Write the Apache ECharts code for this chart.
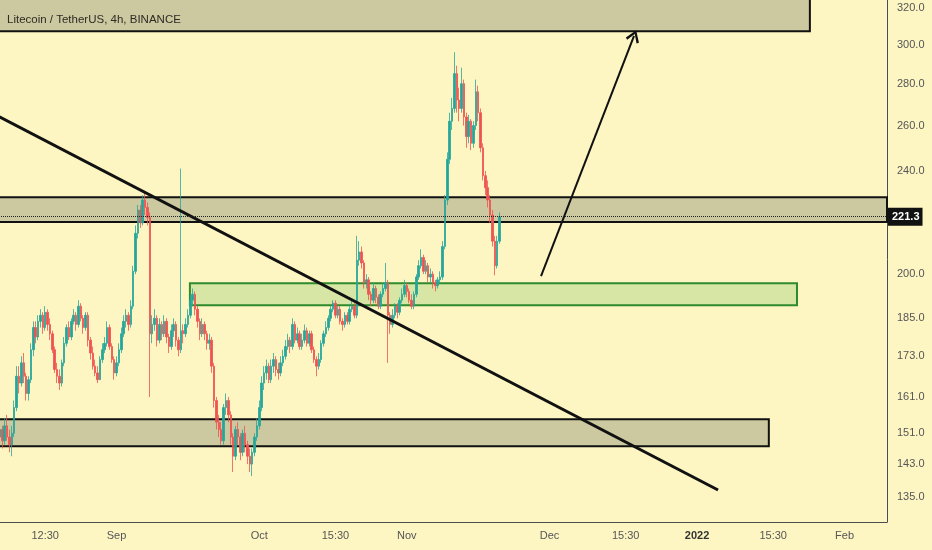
<!DOCTYPE html>
<html>
<head>
<meta charset="utf-8">
<title>Litecoin / TetherUS, 4h, BINANCE</title>
<script src="https://cdn.jsdelivr.net/npm/echarts@6.0.0/dist/echarts.min.js"></script>
<style>
  html, body { margin: 0; padding: 0; background: #fdf6c3; overflow: hidden; }
  /* chart box pushed 3px off the top-left so zone borders that leave the chart stay hidden */
  #chart { position: absolute; left: -3px; top: -3px; width: 935px; height: 553px; }
</style>
</head>
<body>
<div id="chart"></div>
<script>
// candles: one every 12h starting here, rows are [open, close, low, high]
var firstCandle = '2021-08-07 12:00';
var candleHours = 12;
var ohlc = [
  [150,152,148,154],[152,149,147,153],[149,153,148,155],[153,150,149,156],[150,148,146,152],
  [148,151,145,153],[151,158,150,160],[158,167,157,170],[167,165,162,170],[165,171,164,173],
  [171,167,165,174],[167,162,160,168],[162,166,160,167],[166,175,165,177],[175,182,173,184],
  [182,179,177,184],[179,184,178,186],[184,186,182,188],[186,182,180,187],[182,187,181,189],
  [187,183,181,188],[183,180,178,185],[180,175,174,181],[175,169,168,176],[169,167,165,171],
  [167,165,163,169],[165,171,164,172],[171,177,170,179],[177,182,176,183],[182,179,178,184],
  [179,184,178,185],[184,186,183,188],[186,183,181,187],[183,189,182,191],[189,185,184,190],
  [185,182,180,186],[182,186,181,187],[186,178,176,187],[178,174,172,179],[174,170,169,176],
  [170,168,167,172],[168,166,165,170],[166,172,166,173],[172,175,171,177],[175,177,174,179],
  [177,182,176,184],[182,176,175,183],[176,172,171,177],[172,168,166,173],[168,171,167,173],
  [171,175,170,177],[175,180,174,182],[180,184,179,186],[184,186,182,188],[186,183,181,187],
  [183,189,182,191],[189,201,188,203],[201,215,200,218],[215,224,213,226],[224,219,217,226],
  [219,228,218,230],[228,225,222,231],[225,221,218,227],[221,180,161,223],[180,183,177,186],
  [183,185,181,188],[185,178,176,186],[178,183,177,185],[183,180,178,184],[180,184,179,186],
  [184,179,177,185],[179,176,174,180],[176,181,175,183],[181,183,179,185],[183,178,176,184],
  [178,175,173,179],[175,181,174,241],[181,180,177,183],[180,183,179,185],[183,186,182,188],
  [186,191,185,193],[191,193,189,195],[193,188,186,194],[188,184,182,189],[184,180,178,185],
  [180,183,179,185],[183,180,178,184],[180,177,175,181],[177,178,175,180],[178,170,168,179],
  [170,160,158,171],[160,154,152,161],[154,152,150,156],[152,149,148,154],[149,158,148,159],
  [158,160,156,162],[160,156,154,161],[156,150,148,157],[150,145,141,151],[145,152,144,153],
  [152,150,148,154],[150,146,144,151],[146,151,145,152],[151,148,146,153],[148,145,143,149],
  [145,143,141,147],[143,146,140,147],[146,150,145,151],[150,153,149,155],[153,158,152,160],
  [158,165,157,167],[165,168,163,170],[168,170,166,172],[170,166,165,171],[166,170,165,172],
  [170,172,168,174],[172,169,167,173],[169,168,166,171],[168,171,167,173],[171,173,170,175],
  [173,176,172,178],[176,178,175,180],[178,176,174,179],[176,183,175,185],[183,178,177,184],
  [178,180,177,182],[180,176,175,181],[176,178,175,180],[178,181,177,183],[181,177,176,182],
  [177,180,176,181],[180,175,174,181],[175,172,171,176],[172,170,167,173],[170,172,169,174],
  [172,177,171,178],[177,180,176,181],[180,182,179,184],[182,185,181,186],[185,188,184,189],
  [188,190,187,191],[190,186,185,191],[186,188,185,189],[188,184,183,189],[184,183,181,185],
  [183,186,182,187],[186,184,183,187],[184,188,183,189],[188,189,187,191],[189,186,185,190],
  [186,205,185,214],[205,208,203,212],[208,204,202,210],[204,197,195,205],[197,198,195,200],
  [198,193,191,199],[193,191,189,194],[191,195,190,197],[195,192,190,196],[192,189,188,193],
  [189,193,188,194],[193,195,192,197],[195,197,194,204],[197,186,171,198],[186,183,180,187],
  [183,186,182,188],[186,189,185,190],[189,187,185,190],[187,191,186,192],[191,193,190,195],
  [193,196,192,198],[196,194,192,197],[194,191,190,195],[191,189,188,193],[189,193,188,194],
  [193,199,192,200],[199,203,198,205],[203,206,202,209],[206,201,200,207],[201,203,200,205],
  [203,199,197,204],[199,200,197,202],[200,197,195,201],[197,196,194,198],[196,198,195,199],
  [198,199,197,201],[199,210,198,212],[210,228,209,230],[228,245,226,248],[245,262,243,266],
  [262,268,258,273],[268,285,266,296],[285,272,266,289],[272,268,262,278],[268,280,266,288],
  [280,264,260,282],[264,255,250,266],[255,262,252,265],[262,252,249,263],[252,260,250,262],
  [260,276,258,282],[276,266,262,279],[266,250,248,268],[250,238,236,252],[238,233,230,240],
  [233,228,225,236],[228,222,219,230],[222,212,210,224],[212,203,199.6,214],[203,212,202,214],
  [212,221.3,211,223]
];
var lastPrice = 221.3;

var priceTicks = [135, 143, 151, 161, 173, 185, 200, 221.3, 240, 260, 280, 300, 320];
var dateTicks = ['2021-08-17', '2021-09-01', '2021-10-01', '2021-10-17', '2021-11-01',
                 '2021-12-01', '2021-12-17', '2022-01-01', '2022-01-17', '2022-02-01'];
var dateTickText = ['12:30', 'Sep', 'Oct', '15:30', 'Nov', 'Dec', '15:30', '2022', '15:30', 'Feb'];

// drawn zones / lines (date, price)
var greyZones = [
  ['2021-08-01', '2022-01-24 17:00', 307.2, 360],
  ['2021-08-01', '2022-02-09 22:00', 219.3, 229.1],
  ['2021-08-01', '2022-01-16 02:00', 147.6, 154.8]
];
var greenZone = ['2021-09-16 10:00', '2022-01-22 00:00', 189.3, 196.8];
var trendLine = [['2021-08-06 21:00', 264.7], ['2022-01-05 10:00', 136.6]];
var arrowLine = [['2021-11-29 05:00', 199.3], ['2021-12-18 18:00', 304.6]];

function toTime(s) {
  var p = s.split(' ');
  var d = p[0].split('-').map(Number);
  var h = (p[1] || '00:00').split(':').map(Number);
  return new Date(d[0], d[1] - 1, d[2], h[0], h[1]).getTime();
}

var t0 = toTime(firstCandle);
var candles = ohlc.map(function (r, i) {
  return [t0 + i * candleHours * 3600000, Math.log(r[0]), Math.log(r[1]), Math.log(r[2]), Math.log(r[3])];
});
var dateTickTimes = dateTicks.map(toTime);

var areas = greyZones.map(function (z) {
  return [{ xAxis: toTime(z[0]), yAxis: Math.log(z[3]),
            itemStyle: { color: 'rgba(135,135,110,0.42)', borderColor: '#111', borderWidth: 2 } },
          { xAxis: toTime(z[1]), yAxis: Math.log(z[2]) }];
});
areas.push([{ xAxis: toTime(greenZone[0]), yAxis: Math.log(greenZone[3]),
              itemStyle: { color: 'rgba(120,190,90,0.28)', borderColor: '#2e8b2e', borderWidth: 2 } },
            { xAxis: toTime(greenZone[1]), yAxis: Math.log(greenZone[2]) }]);

var chevron = 'path://M5,0 L10,8 L8.6,9.2 L5,3 L1.4,9.2 L0,8 Z';

var myChart = echarts.init(document.getElementById('chart'));
var option = {
  backgroundColor: '#fdf6c3',
  animation: false,
  title: {
    text: 'Litecoin / TetherUS, 4h, BINANCE',
    left: 5, top: 12,
    textStyle: { fontFamily: 'Liberation Sans', fontSize: 11.5, fontWeight: 'normal', color: '#2c2b25' }
  },
  grid: { left: 0, top: 0, right: 45, bottom: 28 },
  xAxis: {
    type: 'value',
    min: toTime('2021-08-06 21:00'),
    max: toTime('2022-02-09 22:00'),
    axisLine: { lineStyle: { color: '#4d4d4d', width: 1 } },
    axisTick: { show: false },
    splitLine: { show: false },
    axisLabel: {
      customValues: dateTickTimes,
      margin: 8,
      fontFamily: 'Liberation Sans',
      fontSize: 11,
      color: '#555',
      hideOverlap: false,
      formatter: function (v) {
        var k = dateTickTimes.indexOf(v);
        if (k < 0) return '';
        return dateTickText[k] === '2022' ? '{b|2022}' : dateTickText[k];
      },
      rich: { b: { fontWeight: 'bold', color: '#333', fontSize: 11, fontFamily: 'Liberation Sans' } }
    }
  },
  yAxis: {
    type: 'value',
    position: 'right',
    min: Math.log(129.1),
    max: Math.log(326.3),
    axisLine: { show: true, lineStyle: { color: '#4d4d4d', width: 1 } },
    axisTick: { show: false },
    splitLine: { show: false },
    axisLabel: {
      customValues: priceTicks.map(function (p) { return Math.log(p); }),
      margin: 1,
      align: 'left',
      hideOverlap: false,
      fontFamily: 'Liberation Sans',
      fontSize: 11,
      color: '#555',
      formatter: function (v) {
        var best = priceTicks[0];
        priceTicks.forEach(function (p) {
          if (Math.abs(Math.log(p) - v) < Math.abs(Math.log(best) - v)) best = p;
        });
        return best === lastPrice ? '{p|' + best.toFixed(1) + '}' : '{n|' + best.toFixed(1) + '}';
      },
      rich: {
        n: { padding: [0, 0, 0, 9], color: '#555', fontSize: 11, fontFamily: 'Liberation Sans' },
        p: { backgroundColor: '#111', color: '#fff', fontWeight: 'bold', fontSize: 11,
             fontFamily: 'Liberation Sans', padding: [4, 3, 3, 4] }
      }
    }
  },
  series: [{
    type: 'candlestick',
    data: candles,
    barWidth: 2,
    clip: true,
    itemStyle: {
      color: '#26a69a', color0: '#ef5350',
      borderColor: '#26a69a', borderColor0: '#ef5350', borderWidth: 0.8
    },
    markArea: { silent: true, data: areas },
    markLine: {
      silent: true,
      symbol: ['none', 'none'],
      label: { show: false },
      data: [
        [{ coord: [toTime(trendLine[0][0]), Math.log(trendLine[0][1])], lineStyle: { color: '#111', width: 3, type: 'solid' } },
         { coord: [toTime(trendLine[1][0]), Math.log(trendLine[1][1])] }],
        [{ coord: [toTime(arrowLine[0][0]), Math.log(arrowLine[0][1])], symbol: 'none', lineStyle: { color: '#111', width: 2, type: 'solid' } },
         { coord: [toTime(arrowLine[1][0]), Math.log(arrowLine[1][1])], symbol: chevron, symbolSize: [14, 12] }],
        { yAxis: Math.log(lastPrice), lineStyle: { color: '#222', width: 1, type: 'dotted' } }
      ]
    }
  }]
};
myChart.setOption(option);
</script>
</body>
</html>
